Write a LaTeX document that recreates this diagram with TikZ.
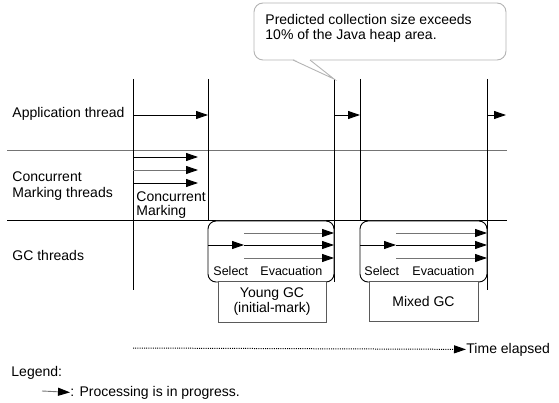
\documentclass[tikz,border=0pt]{standalone}
\usepackage{fontspec}
\setmainfont{Liberation Sans}
\usepackage{xcolor}
\usetikzlibrary{arrows.meta,positioning}
\definecolor{linegray}{HTML}{747474}
\definecolor{boxgray}{HTML}{5A5A5A}
\definecolor{calloutgray}{HTML}{B4B4B4}

\begin{document}
\begin{tikzpicture}[x=1pt,y=-1pt,line width=0.9pt,
        prog/.style={-{Triangle[length=12pt,width=8pt,color=black]}},
        txt/.style={anchor=base west,font=\fontsize{14}{15}\selectfont},
        small/.style={anchor=base west,font=\fontsize{12.5}{13}\selectfont},
        gcbox/.style={draw,fill=white,rounded corners=8pt,minimum height=61,inner sep=0pt},
        lblbox/.style={draw=boxgray,fill=white,align=center,minimum height=41,font=\fontsize{14}{15}\selectfont}]
        \tikzstyle{every node}+=[inner sep=0pt]
        \useasboundingbox (0,0) rectangle (559,403);
        % rows
        \draw [linegray] (7,150) -- (507,150);
        \draw [black] (7,220) -- (507,220);
        \node [txt] (app) at (12,118) {Application thread};
        \node [txt] (cmt1) at (12,182) {Concurrent};
        \node [txt] (cmt2) at (12,198) {Marking threads};
        \node [txt] (gct) at (12,260) {GC threads};
        % time marks
        \foreach \x/\n/\len in {133/a/211,208/b/142,334/c/203,360/d/142,487/e/211}
            \draw [black] (\x,79) coordinate (top\n) -- ++(0,\len) coordinate (bot\n);
        % application thread
        \draw [black,prog] (topa |- 0,115) -- (topb |- 0,115);
        \draw [black,prog] (topc |- 0,115) -- (topd |- 0,115);
        \draw [black,prog] (tope |- 0,115) -- ++(19,0);
        % concurrent marking
        \draw [black,prog] (133,157) -- (198,157);
        \draw [linegray,prog] (133,170) -- (198,170);
        \draw [black,prog] (133,183) -- (198,183);
        \node [txt] (cm1) at (136,202) {Concurrent};
        \node [txt] (cm2) at (136,216) {Marking};
        % GC threads
        \node [gcbox,minimum width=126] (young) at (271,251.5) {};
        \node [gcbox,minimum width=127] (mixed) at (423.5,251.5) {};
        \foreach \bx/\sx/\ex in {208/244/334,360/396/487} {
            \draw [linegray,prog] (\sx,233) -- (\ex,233);
            \draw [black,prog] (\bx,245) -- (\sx,245);
            \draw [black,prog] (\sx,245) -- (\ex,245);
            \draw [linegray,prog] (\sx,258) -- (\ex,258);
        }
        \node [small] (ysel) at (213,275) {Select};
        \node [small] (yevac) at (260,275) {Evacuation};
        \node [small] (msel) at (364,275) {Select};
        \node [small] (mevac) at (412,275) {Evacuation};
        \node [lblbox,minimum width=108] (younglbl) at (272,301.5) {Young GC\\(initial-mark)};
        \node [lblbox,minimum width=109,minimum height=40] (mixedlbl) at (423.5,301) {Mixed GC};
        % callout
        \draw [calloutgray,fill=white,rounded corners=9pt] (254,3) rectangle (506,60);
        \fill [white] (293.5,59) -- (topc) -- (309.5,59) -- cycle;
        \draw [calloutgray] (293,60) -- (topc) -- (310,60);
        \node [txt] (note1) at (265,24.5) {Predicted collection size exceeds};
        \node [txt] (note2) at (265,39.5) {10\% of the Java heap area.};
        % time axis
        \node [txt] (elapsed) at (466,353) {Time elapsed};
        \draw [black,line width=1pt,dash pattern=on 1pt off 1.2pt,prog] (133,348) -- (elapsed.west);
        % legend
        \node [txt] (legend) at (11,376) {Legend:};
        \node [txt] (legtext) at (70,396) {: Processing is in progress.};
        \draw [linegray,prog] (42,391) -- (legtext.west);
\end{tikzpicture}
\end{document}
